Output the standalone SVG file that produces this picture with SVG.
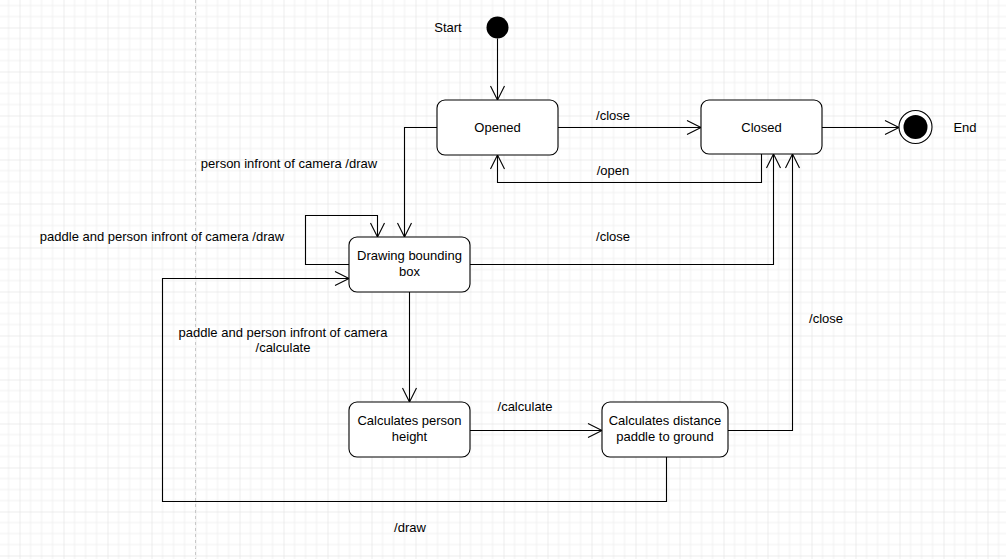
<svg xmlns="http://www.w3.org/2000/svg" width="1006" height="559" viewBox="0 0 1006 559">
<style>
text{font-family:"Liberation Sans",Arial,Helvetica,sans-serif;font-size:13px;fill:#000;text-anchor:middle}
.st{fill:#fff;stroke:#000;stroke-width:1.1}
.c{fill:none;stroke:#000;stroke-width:1.1;marker-end:url(#open)}
</style>
<defs>
<pattern id="grid" patternUnits="userSpaceOnUse" x="19.5" y="27.5" width="44" height="44">
<path d="M11,0V44M22,0V44M33,0V44M0,11H44M0,22H44M0,33H44" fill="none" stroke="#f0f0f0" stroke-width="1"/>
<path d="M0,0V44M0,0H44" fill="none" stroke="#dcdcdc" stroke-width="1"/>
</pattern>
<marker id="open" markerUnits="userSpaceOnUse" markerWidth="20" markerHeight="20" viewBox="-16 -10 18 20" refX="0" refY="0" orient="auto">
<path d="M-14,-7L0,0L-14,7" fill="none" stroke="#000" stroke-width="1.1"/>
</marker>
</defs>
<rect width="1006" height="559" fill="#fff"/>
<rect width="1006" height="559" fill="url(#grid)"/>
<line x1="195.5" y1="0" x2="195.5" y2="559" stroke="#c8c8c8" stroke-width="1" stroke-dasharray="3,3"/>
<g id="connectors">
<path class="c" d="M497.5,38.5V100"/>
<path class="c" d="M558,127.5H701"/>
<path class="c" d="M761.5,154V182.5H497.5V155"/>
<path class="c" d="M437,127.5H404.5V237"/>
<path class="c" d="M349,264.5H305.5V215.5H377.5V237"/>
<path class="c" d="M470,264.5H773.5V154"/>
<path class="c" d="M409.5,292V402"/>
<path class="c" d="M470,430.5H602"/>
<path class="c" d="M728,430.5H792.5V154"/>
<path class="c" d="M666.5,457V501.5H162.5V278.5H349"/>
<path class="c" d="M822,127.5H899"/>
<text x="613" y="120">/close</text>
<text x="613" y="175">/open</text>
<text x="289" y="168">person infront of camera /draw</text>
<text x="162" y="241">paddle and person infront of camera /draw</text>
<text x="613" y="241">/close</text>
<text x="283" y="337">paddle and person infront of camera</text>
<text x="283" y="352">/calculate</text>
<text x="525" y="411">/calculate</text>
<text x="826" y="323">/close</text>
<text x="410" y="532">/draw</text>
</g>
<g id="start">
<circle cx="497.5" cy="27.5" r="11" fill="#000"/>
<text x="448" y="32">Start</text>
</g>
<g id="opened">
<rect class="st" x="437" y="100" width="121" height="55" rx="8"/>
<text x="497.5" y="132">Opened</text>
</g>
<g id="closed">
<rect class="st" x="701" y="100" width="121" height="54" rx="8"/>
<text x="761.5" y="132">Closed</text>
</g>
<g id="end">
<circle cx="915.5" cy="127" r="16.5" fill="#fff" stroke="#000" stroke-width="1.1"/>
<circle cx="915.5" cy="127" r="12" fill="#000"/>
<text x="965" y="131.5">End</text>
</g>
<g id="drawing">
<rect class="st" x="349" y="237" width="121" height="55" rx="8"/>
<text x="409.5" y="260">Drawing bounding</text>
<text x="409.5" y="276">box</text>
</g>
<g id="height">
<rect class="st" x="349" y="402" width="121" height="55" rx="8"/>
<text x="409.5" y="425">Calculates person</text>
<text x="409.5" y="441">height</text>
</g>
<g id="distance">
<rect class="st" x="602" y="402" width="126" height="55" rx="8"/>
<text x="665" y="425">Calculates distance</text>
<text x="665" y="441">paddle to ground</text>
</g>
</svg>
